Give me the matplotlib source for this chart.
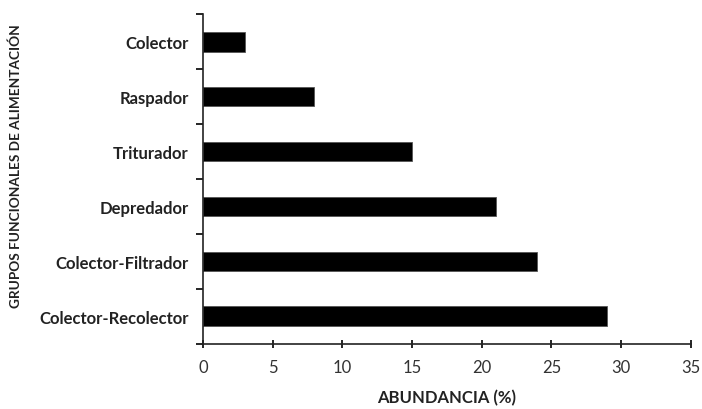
import matplotlib
matplotlib.use('Agg')
import matplotlib.pyplot as plt
import numpy as np

# categories from bottom to top
groups = ['Colector-Recolector', 'Colector-Filtrador', 'Depredador',
          'Triturador', 'Raspador', 'Colector']
abundance = [29, 24, 21, 15, 8, 3]
xticks = [0, 5, 10, 15, 20, 25, 30, 35]

plt.rcParams['font.family'] = ['Lato', 'DejaVu Sans']

fig = plt.figure(figsize=(7.02, 4.10), dpi=100)
ax = fig.add_axes([0.289, 0.159, 0.695, 0.804])

y = np.arange(len(groups))
ax.barh(y, abundance, height=0.36, color='black', edgecolor='#555555', linewidth=0.6)

ax.set_xlim(0, 35)
ax.set_ylim(-0.5, len(groups) - 0.5)
ax.set_xticks(xticks)
ax.set_xticklabels([str(v) for v in xticks], fontsize=12, color='#333333')
ax.tick_params(axis='x', direction='inout', length=6, width=1.2, pad=8)

# labels in the middle, tick marks at the boundaries
ax.set_yticks(y)
ax.set_yticklabels(groups, fontsize=12, fontweight='bold', color='#222222')
ax.tick_params(axis='y', which='major', length=0, pad=10)
ax.set_yticks(np.arange(-0.5, len(groups), 1.0), minor=True)
ax.tick_params(axis='y', which='minor', direction='out', length=5, width=1.2)

for s in ['top', 'right']:
    ax.spines[s].set_visible(False)
for s in ['left', 'bottom']:
    ax.spines[s].set_linewidth(1.2)
    ax.spines[s].set_color('#222222')

ax.set_xlabel('ABUNDANCIA (%)', fontsize=12, fontweight='bold', color='#222222', labelpad=10)
fig.text(0.022, 0.595, 'GRUPOS FUNCIONALES DE ALIMENTACIÓN', rotation=90,
         ha='center', va='center', fontsize=9.8, fontweight='bold', color='#222222')

fig.savefig('out.png', dpi=100)
